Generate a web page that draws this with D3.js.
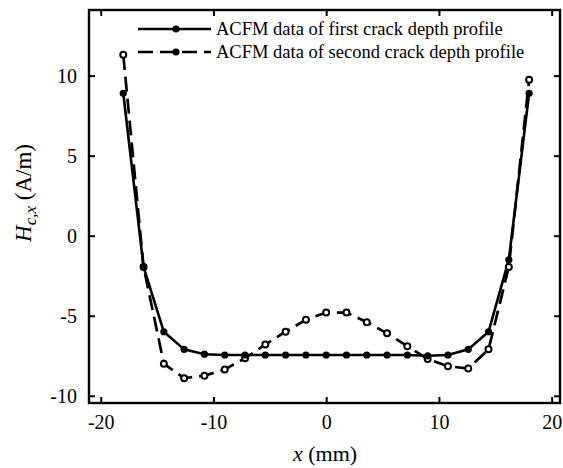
<!DOCTYPE html>
<html>
<head>
<meta charset="utf-8">
<script src="https://cdn.jsdelivr.net/npm/d3@7"></script>
<style>
  html, body { margin: 0; padding: 0; background: #fff; }
  svg { display: block; }
  text { font-family: "Liberation Serif", "Times New Roman", serif; fill: #000; }
</style>
</head>
<body>
<svg id="chart" width="563" height="468"></svg>
<script>
// ---- data ----
const xPositions = [-18, -16.2, -14.4, -12.6, -10.8, -9, -7.2, -5.4, -3.6, -1.8, 0,
                    1.8, 3.6, 5.4, 7.2, 9, 10.8, 12.6, 14.4, 16.2, 18];
const firstProfile = [8.9, -1.95, -6.0, -7.1, -7.4, -7.45, -7.45, -7.45, -7.45, -7.45, -7.45,
                      -7.45, -7.45, -7.45, -7.45, -7.5, -7.45, -7.1, -6.0, -1.5, 8.9];
const secondProfile = [11.3, -1.95, -8.0, -8.9, -8.75, -8.35, -7.65, -6.8, -6.0, -5.25, -4.8,
                       -4.8, -5.4, -6.1, -6.9, -7.7, -8.15, -8.3, -7.1, -1.95, 9.75];
const seriesNames = ["ACFM data of first crack depth profile", "ACFM data of second crack depth profile"];
const xTicks = [-20, -10, 0, 10, 20];
const yTicks = [-10, -5, 0, 5, 10];

// ---- layout ----
const L = 89, R = 560, T = 10, B = 403;
const svg = d3.select("#chart");
const x = d3.scaleLinear().domain([-21.04, 20.74]).range([L, R]);
const y = d3.scaleLinear().domain([-10.45, 14.1]).range([B, T]);

// axes (ticks inward) on all four sides
const tickLen = 6;
const fmt = d => d3.format("d")(d).replace("−", "-");
const axB = svg.append("g").attr("transform", `translate(0,${B})`)
  .call(d3.axisBottom(x).tickValues(xTicks).tickSizeInner(-tickLen).tickSizeOuter(0).tickPadding(12).tickFormat(fmt));
const axT = svg.append("g").attr("transform", `translate(0,${T})`)
  .call(d3.axisTop(x).tickValues(xTicks).tickSizeInner(-tickLen).tickSizeOuter(0).tickFormat(""));
const axL = svg.append("g").attr("transform", `translate(${L},0)`)
  .call(d3.axisLeft(y).tickValues(yTicks).tickSizeInner(-tickLen).tickSizeOuter(0).tickPadding(12).tickFormat(fmt));
const axR = svg.append("g").attr("transform", `translate(${R},0)`)
  .call(d3.axisRight(y).tickValues(yTicks).tickSizeInner(-tickLen).tickSizeOuter(0).tickFormat(""));
[axB, axT, axL, axR].forEach(g => {
  g.select(".domain").remove();
  g.selectAll(".tick line").attr("stroke", "#000").attr("stroke-width", 2);
  g.selectAll(".tick text").attr("font-family", "Liberation Serif, serif").attr("font-size", 20).attr("fill", "#000");
});
axB.selectAll(".tick text").attr("dy", "0.71em");

// frame
svg.append("rect").attr("x", L).attr("y", T).attr("width", R - L).attr("height", B - T)
  .attr("fill", "none").attr("stroke", "#000").attr("stroke-width", 2.4);

// lines
const pts = vals => xPositions.map((xv, i) => [xv, vals[i]]);
const line = d3.line().x(d => x(d[0])).y(d => y(d[1]));

svg.append("path").datum(pts(secondProfile)).attr("d", line)
  .attr("fill", "none").attr("stroke", "#000").attr("stroke-width", 2.7)
  .attr("stroke-dasharray", "15,7");
svg.append("path").datum(pts(firstProfile)).attr("d", line)
  .attr("fill", "none").attr("stroke", "#000").attr("stroke-width", 2.6);

svg.append("g").selectAll("circle").data(pts(secondProfile)).join("circle")
  .attr("cx", d => x(d[0])).attr("cy", d => y(d[1])).attr("r", 3)
  .attr("fill", "#fff").attr("stroke", "#000").attr("stroke-width", 2);
svg.append("g").selectAll("circle").data(pts(firstProfile)).join("circle")
  .attr("cx", d => x(d[0])).attr("cy", d => y(d[1])).attr("r", 3.6)
  .attr("fill", "#000");

// legend
const legRows = [
  { name: seriesNames[0], yy: 29, dash: null },
  { name: seriesNames[1], yy: 52, dash: "15,7" }
];
legRows.forEach(r => {
  svg.append("line").attr("x1", 138).attr("x2", 211).attr("y1", r.yy).attr("y2", r.yy)
    .attr("stroke", "#000").attr("stroke-width", 2.6)
    .attr("stroke-dasharray", r.dash);
  svg.append("circle").attr("cx", 176).attr("cy", r.yy).attr("r", 3.6).attr("fill", "#000");
  svg.append("text").attr("x", 216).attr("y", r.yy + 6).attr("font-size", 18.5).text(r.name);
});

// axis titles
const xt = svg.append("text").attr("x", 325).attr("y", 461).attr("text-anchor", "middle").attr("font-size", 22);
xt.append("tspan").attr("font-style", "italic").text("x");
xt.append("tspan").text(" (mm)");

const yt = svg.append("text").attr("transform", "translate(31,193) rotate(-90)")
  .attr("text-anchor", "middle").attr("font-size", 23);
yt.append("tspan").attr("font-style", "italic").text("H");
yt.append("tspan").attr("font-style", "italic").attr("font-size", 17).attr("dy", 5).text("c,x");
yt.append("tspan").attr("dy", -5).text(" (A/m)");
</script>
</body>
</html>
